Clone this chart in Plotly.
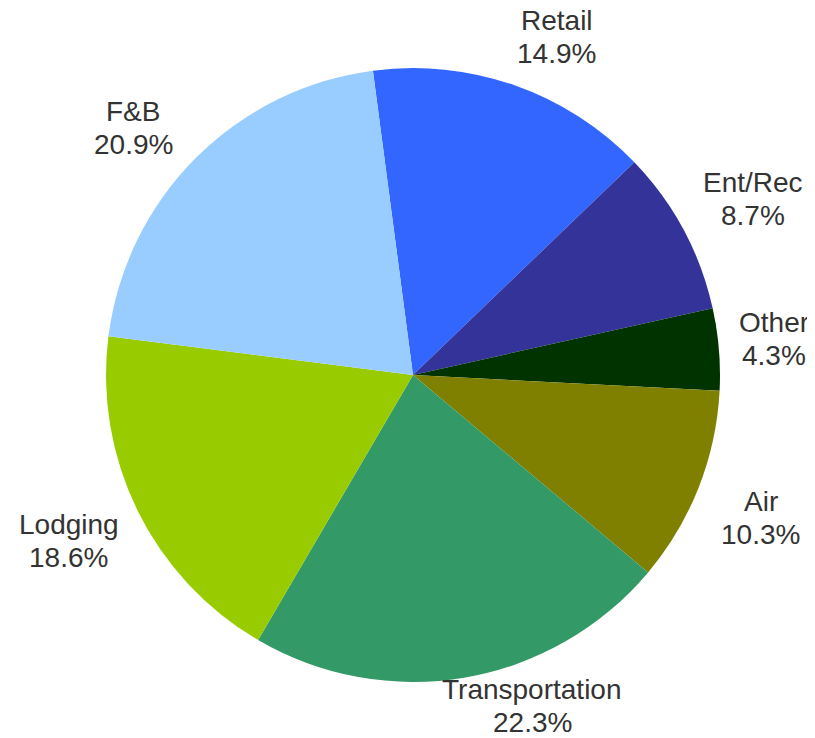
import math
import plotly.graph_objects as go

# slice labels, shares (%) and colours, clockwise from the top
labels = ["Retail", "Ent/Rec", "Other", "Air", "Transportation", "Lodging", "F&B"]
shares = [14.9, 8.7, 4.3, 10.3, 22.3, 18.6, 20.9]
colors = ["#3366FF", "#333399", "#003300", "#808000", "#339966", "#99CC00", "#99CCFF"]

# layout (pixels); the page body adds an 8px margin around the figure
VW, VH = 815, 738           # visible window
OFF = 8
W, H = VW - OFF, VH - OFF   # figure size
ML, MR, MT, MB = 98, 95, 60, 56
PW, PH = W - ML - MR, H - MT - MB
R = min(PW, PH) / 2
CX, CY = OFF + ML + PW / 2, OFF + MT + PH / 2   # pie centre in window coords
ROT = -7.5          # start angle, degrees clockwise from 12 o'clock
FS = 28             # label font size
LINE = 33           # distance between the two label lines
GAP = 20            # gap between pie edge and label box

fig = go.Figure(go.Pie(
    labels=labels,
    values=shares,
    sort=False,
    direction="clockwise",
    rotation=ROT,
    marker=dict(colors=colors, line=dict(width=0)),
    textinfo="none",
    textposition="none",
    showlegend=False,
    hoverinfo="label+percent",
))


def clip(v, lo, hi):
    return max(lo, min(hi, v))


font = dict(family="Liberation Sans, Arial, sans-serif", size=FS, color="#333333")
annotations = []
total = sum(shares)
cum = 0
for name, v in zip(labels, shares):
    pct = f"{v / total * 100:.1f}%"
    ang = math.radians(ROT + 360 * (cum + v / 2) / total)
    cum += v
    s, c = math.sin(ang), -math.cos(ang)      # screen direction (y down)
    px, py = CX + R * s, CY + R * c
    if abs(s) >= abs(c):
        px += GAP * (1 if s > 0 else -1)
    else:
        py += GAP * (1 if c > 0 else -1)
    w = max(len(name) * 0.5, len(pct) * 0.6) * FS
    h = LINE + FS
    lx = clip(px + w / 2 * clip(4 * s, -1, 1), w / 2 + 4, VW - w / 2 - 4)
    ly = clip(py + h / 2 * clip(4 * c, -1, 1), h / 2 + 7, VH - h / 2 - 2)
    for txt, yy in ((name, ly - LINE / 2), (pct, ly + LINE / 2)):
        annotations.append(dict(
            text=txt, showarrow=False, font=font,
            xref="paper", yref="paper",
            x=(lx - OFF - ML) / PW, y=1 - (yy - OFF - MT) / PH,
            xanchor="center", yanchor="middle",
        ))

fig.update_layout(
    width=W,
    height=H,
    margin=dict(l=ML, r=MR, t=MT, b=MB),
    paper_bgcolor="white",
    plot_bgcolor="white",
    annotations=annotations,
)

fig.write_html("out.html")
